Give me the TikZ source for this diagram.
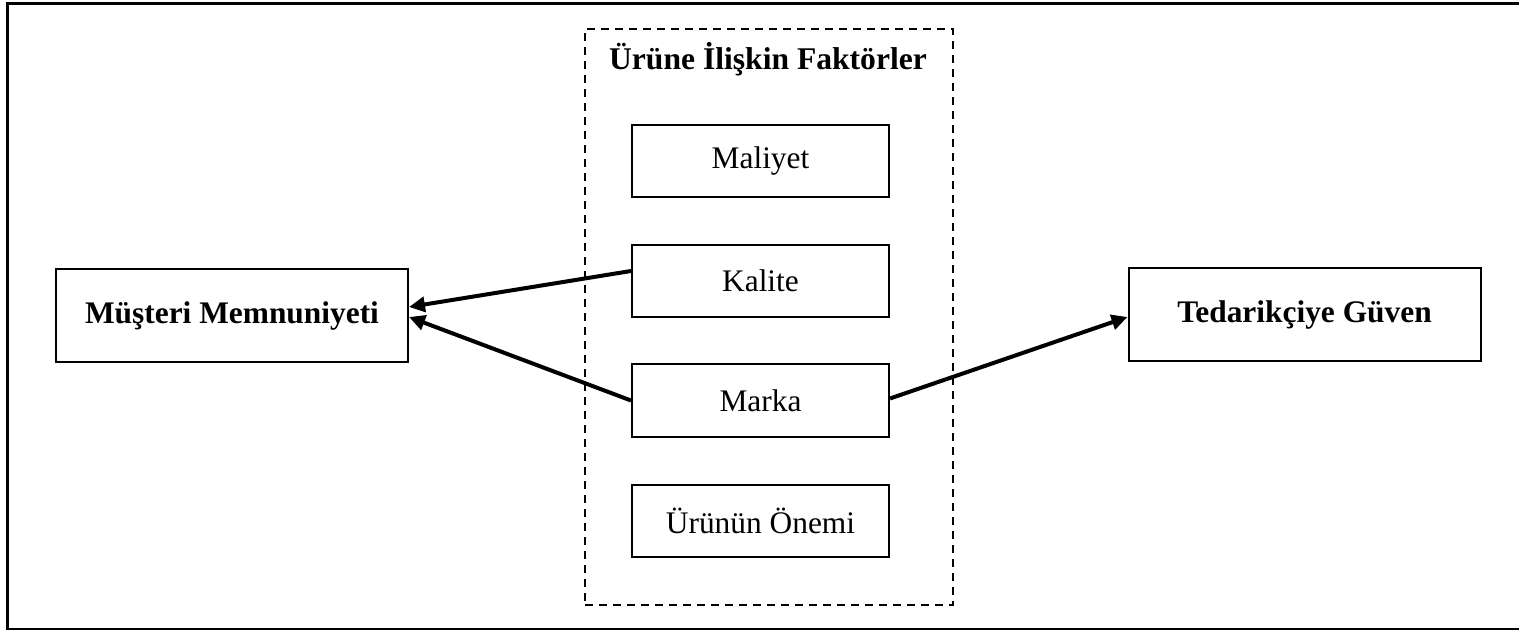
\documentclass[tikz,border=0pt]{standalone}
\usepackage{fontspec}
\setmainfont{Liberation Serif}
\usetikzlibrary{arrows.meta}
\begin{document}
\begin{tikzpicture}[x=0.5pt,y=-0.5pt,
  box/.style={draw,line width=1pt,rectangle,inner sep=0pt,font=\fontsize{15.7pt}{18pt}\selectfont},
  small/.style={box,minimum width=128.5pt,minimum height=36pt},
  big/.style={box,minimum width=176pt,minimum height=46.5pt,font=\fontsize{15.7pt}{18pt}\selectfont\bfseries},
  conn/.style={line width=2pt,-{Triangle[length=8pt,width=7.5pt]}}]
\useasboundingbox (0,0) rectangle (1519,630);
% outer frame
\draw[line width=1.5pt] (1530,3.5) -- (7.5,3.5) -- (7.5,629) -- (1530,629);
% dashed group
\node[draw,dashed,dash pattern=on 4pt off 3pt,line width=1pt,minimum width=184pt,minimum height=288pt,inner sep=0pt] (grp) at (769,317) {};
\node[font=\fontsize{15.8pt}{18pt}\selectfont\bfseries] (title) at (768,59) {Ürüne İlişkin Faktörler};
% factor boxes
\node[small] (mal) at (760.5,161) {Maliyet};
\node[small] (kal) at (760.5,281) {Kalite};
\node[small] (mar) at (760.5,400.5) {Marka};
\node[small] (one) at (760.5,521) {Ürünün Önemi};
% outcome boxes
\node[big] (mm) at (232,315.5) {Müşteri Memnuniyeti};
\node[big] (tg) at (1304.5,315) {Tedarikçiye Güven};
% connectors
\draw[conn] ([yshift=5pt]kal.west) -- ([yshift=4.25pt]mm.east);
\draw[conn] (mar.west) -- ([yshift=-0.75pt]mm.east);
\draw[conn] ([yshift=1pt]mar.east) -- ([yshift=-1pt]tg.west);
\end{tikzpicture}
\end{document}
